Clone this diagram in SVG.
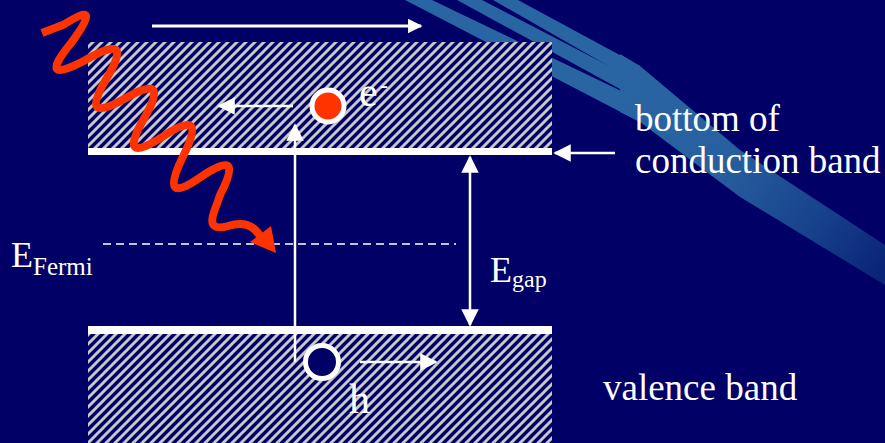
<svg xmlns="http://www.w3.org/2000/svg" width="885" height="443" viewBox="0 0 885 443">
<defs>
<pattern id="hatch" patternUnits="userSpaceOnUse" width="9" height="9">
<rect width="9" height="9" fill="#000066"/>
<path d="M0,9 L9,0 M-4.5,4.5 L4.5,-4.5 M4.5,13.5 L13.5,4.5" stroke="#c8c8c8" stroke-width="2.9"/>
</pattern>
<linearGradient id="tail" x1="620" y1="80" x2="885" y2="265" gradientUnits="userSpaceOnUse">
<stop offset="0" stop-color="#2a65a3"/>
<stop offset="0.4" stop-color="#2760a0"/>
<stop offset="0.75" stop-color="#17418c"/>
<stop offset="1" stop-color="#0a2478"/>
</linearGradient>
<marker id="ah" viewBox="0 0 10 10" refX="9" refY="5" markerWidth="5" markerHeight="5" orient="auto-start-reverse" markerUnits="strokeWidth">
<path d="M0,0 L10,5 L0,10 z" fill="#ffffff"/>
</marker>
<marker id="ah2" viewBox="0 0 10 10" refX="9" refY="5" markerWidth="7" markerHeight="7" orient="auto-start-reverse" markerUnits="strokeWidth">
<path d="M0,0 L10,5 L0,10 z" fill="#ffffff"/>
</marker>
</defs>
<style>
.t{fill:#ffffff;font-family:'Liberation Serif','Times New Roman',serif}
.arr{stroke:#ffffff;fill:none}
.bar{fill:#ffffff}
.streak{fill:#2a65a3}
</style>
<rect width="885" height="443" fill="#000066"/>
<g id="streaks">
<polygon class="streak" points="405,0 432,0 640,100 640,122"/>
<polygon class="streak" points="457,0 482,0 640,82 640,100"/>
<polygon class="streak" points="493,0 518,0 640,66 640,84"/>
<polygon points="620,54 640,66 740,150 885,245 885,285 740,197 640,122 620,112" fill="url(#tail)"/>
</g>
<g id="conduction-band">
<rect x="88" y="42" width="464" height="106" fill="url(#hatch)"/>
<rect class="bar" x="88" y="148" width="464" height="7"/>
</g>
<g id="valence-band">
<rect x="88" y="334" width="464" height="109" fill="url(#hatch)"/>
<rect class="bar" x="88" y="326" width="464" height="8"/>
</g>
<g id="connectors">
<line class="arr" x1="152" y1="26" x2="421" y2="26" stroke-width="3" marker-end="url(#ah)"/>
<line class="arr" x1="293" y1="106" x2="219" y2="106" stroke-width="2.5" marker-end="url(#ah2)"/>
<line class="arr" x1="295" y1="362" x2="295" y2="125" stroke-width="2.5" marker-end="url(#ah2)"/>
<line class="arr" x1="360" y1="362" x2="436" y2="362" stroke-width="2.5" marker-end="url(#ah2)"/>
<line class="arr" x1="470" y1="157" x2="470" y2="325" stroke-width="2.5" marker-start="url(#ah2)" marker-end="url(#ah2)"/>
<line class="arr" x1="615" y1="153" x2="555" y2="153" stroke-width="2.5" marker-end="url(#ah2)"/>
<line class="arr" x1="103" y1="244" x2="456" y2="244" stroke-width="1.5" stroke-dasharray="8 5"/>
</g>
<g id="photon">
<path d="M42,33 L64,24.5 Q104.25,-1.5 71.5,42.5 Q35,87 86.5,59.5 Q135.5,31 106.5,78.5 Q78.25,125.5 125,98.5 Q171.5,71.5 144,118.5 Q116.5,166.5 163,136.5 Q209,105.5 183,156.5 Q157.75,207.5 201.5,176.5 Q245,146.75 220.5,194 L214,212 Q207,232 228,226 Q250,219 260,236" fill="none" stroke="#ff3300" stroke-width="8" stroke-linejoin="round"/>
<polygon points="250,242 276,253 271,226" fill="#ff3300"/>
</g>
<g id="electron">
<circle cx="328" cy="106" r="16" fill="#ff3300" stroke="#ffffff" stroke-width="5"/>
<text class="t" x="359" y="106" font-size="42">e</text>
<text class="t" x="380" y="93" font-size="24">-</text>
</g>
<g id="hole">
<circle cx="322" cy="362" r="16.5" fill="#000066" stroke="#ffffff" stroke-width="5"/>
<text class="t" x="349" y="413" font-size="42">h</text>
</g>
<g id="fermi-label">
<text class="t" x="11" y="267" font-size="36">E<tspan font-size="25" dy="8">Fermi</tspan></text>
</g>
<g id="gap-label">
<text class="t" x="490" y="282" font-size="36">E<tspan font-size="24" dy="5">gap</tspan></text>
</g>
<g id="cb-label">
<text class="t" x="635" y="131" font-size="37">bottom of</text>
<text class="t" x="635" y="173" font-size="37">conduction band</text>
</g>
<g id="vb-label">
<text class="t" x="603" y="400" font-size="37">valence band</text>
</g>
</svg>
